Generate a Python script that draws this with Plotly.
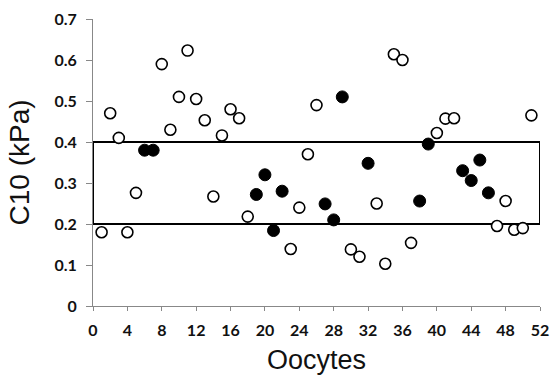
import plotly.graph_objects as go

# Open circles (oocyte index, C10 in kPa)
open_x = [1, 2, 3, 4, 5, 8, 9, 10, 11, 12, 13, 14, 15, 16, 17, 18, 23, 24, 25, 26,
          30, 31, 33, 34, 35, 36, 37, 40, 41, 42, 47, 48, 49, 50, 51]
open_y = [0.18, 0.47, 0.41, 0.18, 0.276, 0.59, 0.43, 0.51, 0.623, 0.505, 0.453, 0.267,
          0.416, 0.48, 0.458, 0.218, 0.139, 0.24, 0.37, 0.49, 0.138, 0.12, 0.25, 0.103,
          0.614, 0.6, 0.154, 0.422, 0.457, 0.458, 0.195, 0.256, 0.186, 0.19, 0.465]

# Filled circles
filled_x = [6, 7, 19, 20, 21, 22, 27, 28, 29, 32, 38, 39, 43, 44, 45, 46]
filled_y = [0.38, 0.38, 0.272, 0.32, 0.184, 0.28, 0.249, 0.21, 0.51, 0.348, 0.256,
            0.395, 0.33, 0.306, 0.356, 0.276]

# Reference band
band_x = [0, 52]
band_y = [0.2, 0.4]

x_ticks = list(range(0, 53, 4))
y_ticks = [0, 0.1, 0.2, 0.3, 0.4, 0.5, 0.6, 0.7]
y_tick_labels = ["0", "0.1", "0.2", "0.3", "0.4", "0.5", "0.6", "0.7"]

fig = go.Figure()
fig.add_shape(type="rect", x0=band_x[0], x1=band_x[1], y0=band_y[0], y1=band_y[1],
              xref="x", yref="y", line=dict(color="black", width=2), layer="below")
fig.add_trace(go.Scatter(x=open_x, y=open_y, mode="markers",
                         marker=dict(size=11, color="white", symbol="circle",
                                     line=dict(color="black", width=1.6)),
                         showlegend=False, cliponaxis=False))
fig.add_trace(go.Scatter(x=filled_x, y=filled_y, mode="markers",
                         marker=dict(size=12, color="black", symbol="circle",
                                     line=dict(color="black", width=1)),
                         showlegend=False, cliponaxis=False))

tickfont = dict(family="Lato", size=16, color="#111", weight="bold")
fig.update_layout(
    width=551, height=375,
    margin=dict(l=93, r=11, t=19, b=69, autoexpand=False),
    plot_bgcolor="white", paper_bgcolor="white",
    xaxis=dict(range=[0, 52], tickvals=x_ticks, showgrid=False, zeroline=False,
               automargin=False,
               showline=True, linecolor="#888", linewidth=1,
               ticks="outside", ticklen=4, tickcolor="#888", tickfont=tickfont,
               ticklabelstandoff=6,
               title=dict(text="Oocytes", font=dict(family="Liberation Sans", size=27, color="#111"),
                          standoff=11)),
    yaxis=dict(range=[0, 0.7], tickvals=y_ticks, ticktext=y_tick_labels, showgrid=False,
               zeroline=False, automargin=False,
               showline=True, linecolor="#888", linewidth=1,
               ticks="outside", ticklen=6, tickcolor="#888", tickfont=tickfont,
               ticklabelstandoff=6,
               title=dict(text="C10 (kPa)",
                          font=dict(family="Liberation Sans", size=28, color="#111"),
                          standoff=16)),
)

fig.write_html("out.html", config={"displayModeBar": False},
               post_script="document.body.style.margin='0';")
